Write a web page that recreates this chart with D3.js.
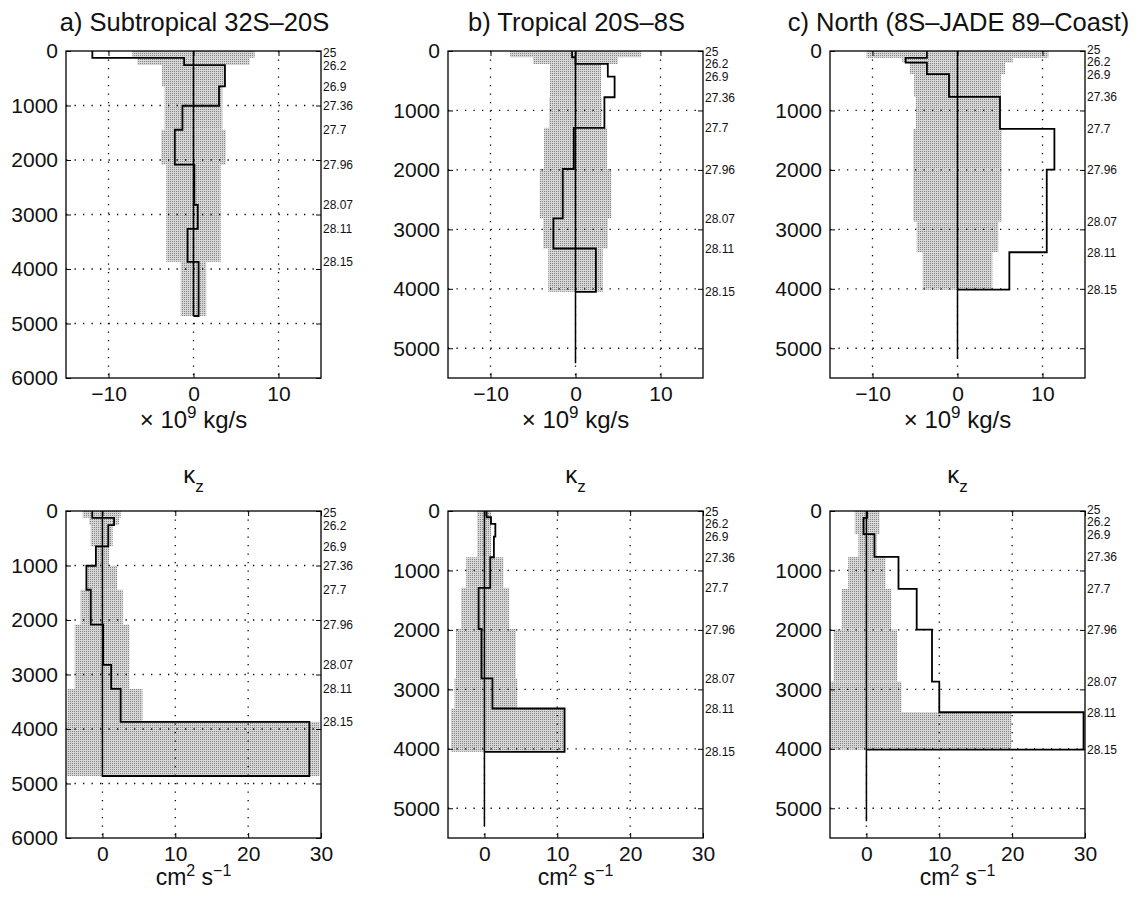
<!DOCTYPE html>
<html>
<head>
<meta charset="utf-8">
<script src="https://cdn.jsdelivr.net/npm/d3@7"></script>
<style>
  body { margin: 0; background: #fff; }
  svg text { font-family: "Liberation Sans", Arial, Helvetica, sans-serif; fill: #111; }
</style>
</head>
<body>
<div id="area"></div>
<script>
// region titles and isopycnal labels (sigma) shown at the right of each panel
const TITLES = ["a) Subtropical 32S\u201320S", "b) Tropical 20S\u20138S", "c) North (8S\u2013JADE 89\u2013Coast)"];
const DENSITY = ["25", "26.2", "26.9", "27.36", "27.7", "27.96", "28.07", "28.11", "28.15"];

// layer interfaces (m), surface to bottom, one list per region
const DEPTH_A = [0, 125, 258, 650, 1005, 1445, 2085, 2825, 3265, 3868, 4862];
const DEPTH_B = [0, 105, 218, 430, 778, 1292, 1985, 2815, 3322, 4050];
const DEPTH_C = [0, 115, 195, 388, 772, 1310, 1995, 2870, 3385, 4015];

// where the thin zero line stops (m): flux panels, kz panels
const ZERO_END_FLUX = [4862, 5250, 5180];
const ZERO_END_KZ = [4880, 5300, 5220];

// net layer transport (x 10^9 kg/s) and its uncertainty (half width)
const FLUX_A = [-11.9, -1.1, 3.7, 3.0, -1.3, -2.2, 0.1, 0.5, -0.7, 0.6];
const FLUX_ERR_A = [7.2, 6.6, 3.7, 3.4, 3.4, 3.8, 3.2, 3.2, 3.2, 1.5];
const FLUX_B = [-0.4, 0, 3.8, 4.6, 3.4, -0.2, -1.5, -2.6, 2.4];
const FLUX_ERR_B = [7.7, 5.0, 3.0, 3.0, 3.1, 3.7, 4.2, 3.8, 3.2];
const FLUX_C = [-3.6, -6.1, -3.6, -1.0, 5.0, 11.4, 10.5, 10.5, 6.1];
const FLUX_ERR_C = [10.7, 6.5, 5.6, 5.1, 4.9, 5.2, 5.2, 4.8, 4.1];

// vertical diffusivity kappa_z (cm^2/s) and its uncertainty range
const KZ_A = [-1.4, 1.6, 0.8, -0.9, -2.2, -1.6, 0.1, 1.2, 2.5, 28.4];
const KZ_LO_A = [-2.7, -1.8, -1.6, -0.9, -2.1, -3.0, -3.8, -3.8, -4.8, -4.9];
const KZ_HI_A = [2.5, 2.3, 1.4, 0.9, 2.0, 2.8, 3.7, 3.7, 5.5, 29.8];
const KZ_B = [0.3, 0.9, 1.5, 1.3, 0.8, -0.8, -0.4, 1.1, 11.0];
const KZ_LO_B = [-1.0, -1.0, -1.0, -1.0, -2.5, -3.2, -3.9, -4.1, -4.6];
const KZ_HI_B = [0.9, 0.9, 0.9, 0.9, 2.6, 3.4, 4.3, 4.5, 11.0];
const KZ_C = [0.1, -0.4, -0.4, 1.1, 4.4, 6.9, 9.0, 10.0, 29.8];
const KZ_LO_C = [-1.6, -1.6, -1.6, -1.1, -2.5, -3.4, -4.5, -5.0, -5.0];
const KZ_HI_C = [1.8, 1.8, 1.8, 1.4, 2.6, 3.4, 4.2, 4.8, 19.9];

// axis ticks
const FLUX_TICKS = [-10, 0, 10];
const KZ_TICKS = [0, 10, 20, 30];
const DEPTH_TICKS_A = [0, 1000, 2000, 3000, 4000, 5000, 6000];
const DEPTH_TICKS_BC = [0, 1000, 2000, 3000, 4000, 5000];

const W = 1140, H = 901;
const colLeft = [66, 448, 830];
const pw = 255, ph = 327;
const rowTop = [51, 511];

const svg = d3.select("#area").append("svg").attr("width", W).attr("height", H);

// stippled grey for the uncertainty bands
const defs = svg.append("defs");
const pat = defs.append("pattern").attr("id", "stip").attr("patternUnits", "userSpaceOnUse")
  .attr("width", 2).attr("height", 2);
pat.append("rect").attr("width", 2).attr("height", 2).attr("fill", "#d6d6d6");
pat.append("rect").attr("x", 0).attr("y", 0).attr("width", 1).attr("height", 1).attr("fill", "#858585");

const fmt = d3.format("d");

function panel(o) {
  const g = svg.append("g").attr("transform", `translate(${o.left},${o.top})`);
  const x = d3.scaleLinear().domain(o.xdom).range([0, pw]);
  const y = d3.scaleLinear().domain([0, o.ymax]).range([0, ph]);
  const n = o.vals.length;
  const layers = d3.range(n).map(i => ({v: o.vals[i], lo: o.lo[i], hi: o.hi[i], d0: o.depth[i], d1: o.depth[i + 1]}));

  // uncertainty shading
  g.selectAll("rect.band").data(layers).enter().append("rect")
    .attr("x", d => x(d.lo)).attr("width", d => x(d.hi) - x(d.lo))
    .attr("y", d => y(d.d0)).attr("height", d => y(d.d1) - y(d.d0))
    .attr("fill", "url(#stip)");

  // dotted grid
  const gx = o.xticks.filter(t => t > o.xdom[0] && t < o.xdom[1]);
  const gy = o.yticks.filter(t => t > 0 && t < o.ymax);
  g.selectAll("line.gx").data(gx).enter().append("line")
    .attr("x1", d => x(d)).attr("x2", d => x(d)).attr("y1", 0).attr("y2", ph)
    .attr("stroke", "#000").attr("stroke-width", 1.3).attr("stroke-dasharray", "1.3,7.2");
  g.selectAll("line.gy").data(gy).enter().append("line")
    .attr("y1", d => y(d)).attr("y2", d => y(d)).attr("x1", 0).attr("x2", pw)
    .attr("stroke", "#000").attr("stroke-width", 1.3).attr("stroke-dasharray", "1.3,7.2");

  // axes (inward ticks) and frame
  const ax = g.append("g").attr("transform", `translate(0,${ph})`)
    .call(d3.axisBottom(x).tickValues(o.xticks).tickFormat(fmt).tickSize(-5).tickPadding(8));
  const ay = g.append("g").call(d3.axisLeft(y).tickValues(o.yticks).tickFormat(fmt).tickSize(-5).tickPadding(8));
  g.append("g").call(d3.axisTop(x).tickValues(o.xticks).tickSize(-5).tickFormat(""));
  g.append("g").attr("transform", `translate(${pw},0)`).call(d3.axisRight(y).tickValues(o.yticks).tickSize(-5).tickFormat(""));
  g.selectAll(".domain").remove();
  g.selectAll(".tick line").attr("stroke", "#000").attr("stroke-width", 1);
  [ax, ay].forEach(a => a.selectAll("text").attr("font-size", 21).attr("fill", "#111")
    .style("font-family", '"Liberation Sans", Arial, sans-serif'));
  g.append("rect").attr("width", pw).attr("height", ph).attr("fill", "none")
    .attr("stroke", "#000").attr("stroke-width", 1.3);

  // zero line
  g.append("line").attr("x1", x(0)).attr("x2", x(0)).attr("y1", 0).attr("y2", y(o.zeroEnd))
    .attr("stroke", "#000").attr("stroke-width", 1.5);

  // stair profile
  const pts = [];
  layers.forEach(d => { pts.push([d.v, d.d0]); pts.push([d.v, d.d1]); });
  pts.push([0, o.depth[n]]);
  const line = d3.line().x(d => x(d[0])).y(d => y(d[1]));
  g.append("path").attr("d", line(pts)).attr("fill", "none")
    .attr("stroke", "#000").attr("stroke-width", 1.8);

  // isopycnal labels, nudged upward where they would collide
  const ly = DENSITY.map((d, i) => y(o.depth[i + 1]) + 4.5);
  for (let i = ly.length - 2; i >= 0; i--) ly[i] = Math.min(ly[i], ly[i + 1] - 12.5);
  g.selectAll("text.sig").data(DENSITY).enter().append("text")
    .attr("x", pw + 2).attr("y", (d, i) => ly[i])
    .attr("font-size", 12).text(d => d);
  return {g, x, y};
}

const depths = [DEPTH_A, DEPTH_B, DEPTH_C];
const flux = [FLUX_A, FLUX_B, FLUX_C];
const fluxErr = [FLUX_ERR_A, FLUX_ERR_B, FLUX_ERR_C];
const kz = [KZ_A, KZ_B, KZ_C];
const kzLo = [KZ_LO_A, KZ_LO_B, KZ_LO_C];
const kzHi = [KZ_HI_A, KZ_HI_B, KZ_HI_C];

for (let c = 0; c < 3; c++) {
  const ymax = c === 0 ? 6000 : 5500;
  const yticks = c === 0 ? DEPTH_TICKS_A : DEPTH_TICKS_BC;
  const cx = colLeft[c] + pw / 2;

  panel({left: colLeft[c], top: rowTop[0], xdom: [-15, 15], ymax, xticks: FLUX_TICKS, yticks,
    depth: depths[c], vals: flux[c], lo: fluxErr[c].map(e => -e), hi: fluxErr[c],
    zeroEnd: ZERO_END_FLUX[c]});
  panel({left: colLeft[c], top: rowTop[1], xdom: [-5, 30], ymax, xticks: KZ_TICKS, yticks,
    depth: depths[c], vals: kz[c], lo: kzLo[c], hi: kzHi[c], zeroEnd: ZERO_END_KZ[c]});

  // titles
  svg.append("text").attr("x", cx + 1).attr("y", 31).attr("text-anchor", "middle")
    .attr("font-size", 25.5).text(TITLES[c]);

  const xl = svg.append("text").attr("x", cx).attr("y", 428).attr("text-anchor", "middle").attr("font-size", 24);
  xl.append("tspan").text("\u00d7 10");
  xl.append("tspan").attr("dy", -10).attr("font-size", 17).text("9");
  xl.append("tspan").attr("dy", 10).text(" kg/s");

  const kt = svg.append("text").attr("x", cx).attr("y", 483).attr("text-anchor", "middle").attr("font-size", 24);
  kt.append("tspan").text("\u03ba");
  kt.append("tspan").attr("dy", 9).attr("font-size", 17).text("z");

  const kl = svg.append("text").attr("x", cx).attr("y", 885).attr("text-anchor", "middle").attr("font-size", 23);
  kl.append("tspan").text("cm");
  kl.append("tspan").attr("dy", -9).attr("font-size", 16).text("2");
  kl.append("tspan").attr("dy", 9).text(" s");
  kl.append("tspan").attr("dy", -9).attr("font-size", 16).text("\u22121");
}
</script>
</body>
</html>
